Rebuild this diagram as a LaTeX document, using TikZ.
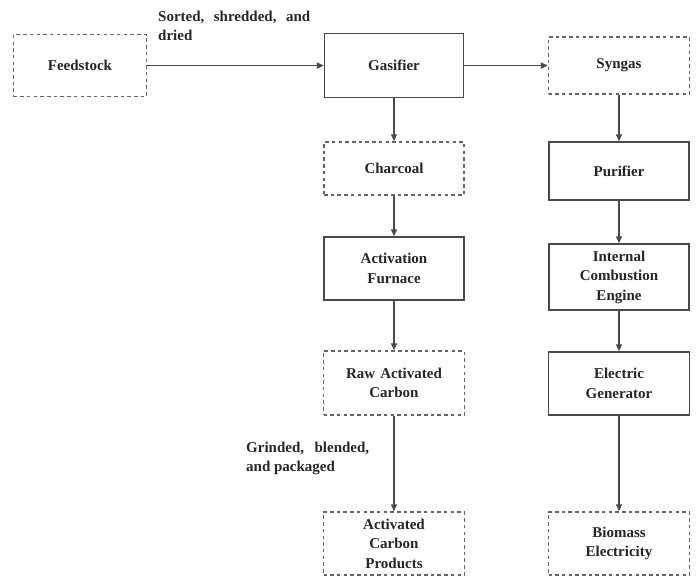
\documentclass[tikz,border=0pt]{standalone}
\usepackage{fontspec}
\setmainfont{Liberation Serif}
\usetikzlibrary{arrows.meta}
\definecolor{linegray}{HTML}{4A4A4A}
\definecolor{txt}{HTML}{262626}
\begin{document}
\begin{tikzpicture}[x=1pt,y=-1pt,
  box/.style={draw=linegray, line width=1.4pt, fill=white, text=txt,
    text width=130pt, align=center, inner sep=0pt,
    font=\bfseries\fontsize{15}{19.5}\selectfont},
  dbox/.style={box, draw=linegray!85, dash pattern=on 3.5pt off 3.2pt},
  lbl/.style={text=txt, inner sep=0pt, anchor=north west, align=justify,
    font=\bfseries\fontsize{15}{18.5}\selectfont},
  arr/.style={draw=linegray, line width=1.4pt, -{Triangle[length=7pt,width=6pt]}}
]
\useasboundingbox (0,0) rectangle (696,579);

\node[dbox, minimum width=133pt, minimum height=62pt] (feed) at (80,65.5) {Feedstock};
\node[box, minimum width=139pt, minimum height=64pt] (gas) at (394,65.5) {Gasifier};
\node[dbox, minimum width=141pt, minimum height=57pt] (syn) at (619,65.5) {Syngas};
\node[dbox, minimum width=140pt, minimum height=53pt] (char) at (394,168.5) {Charcoal};
\node[box, minimum width=140pt, minimum height=63pt] (act) at (394,268.5) {Activation\\Furnace};
\node[box, minimum width=140pt, minimum height=58pt] (pur) at (619,171) {Purifier};
\node[box, minimum width=140pt, minimum height=66pt] (ice) at (619,277) {Internal\\Combustion\\Engine};
\node[dbox, minimum width=141pt, minimum height=64pt] (raw) at (394,383) {Raw Activated\\Carbon};
\node[box, minimum width=141pt, minimum height=63pt] (gen) at (619,383.5) {Electric\\Generator};
\node[dbox, minimum width=141pt, minimum height=63pt] (prod) at (394,543.5) {Activated\\Carbon\\Products};
\node[dbox, minimum width=141pt, minimum height=63pt] (elec) at (619,543.5) {Biomass\\Electricity};

\node[lbl, text width=152pt] (l1) at (158,11) {Sorted, shredded, and dried};
\node[lbl, text width=123pt] (l2) at (246,442) {Grinded, blended, and packaged};

\draw[arr] (feed.east) -- (gas.west);
\draw[arr] (gas.east) -- (syn.west);
\draw[arr] (gas.south) -- (char.north);
\draw[arr] (char.south) -- (act.north);
\draw[arr] (act.south) -- (raw.north);
\draw[arr] (raw.south) -- (prod.north);
\draw[arr] (syn.south) -- (pur.north);
\draw[arr] (pur.south) -- (ice.north);
\draw[arr] (ice.south) -- (gen.north);
\draw[arr] (gen.south) -- (elec.north);
\end{tikzpicture}
\end{document}
